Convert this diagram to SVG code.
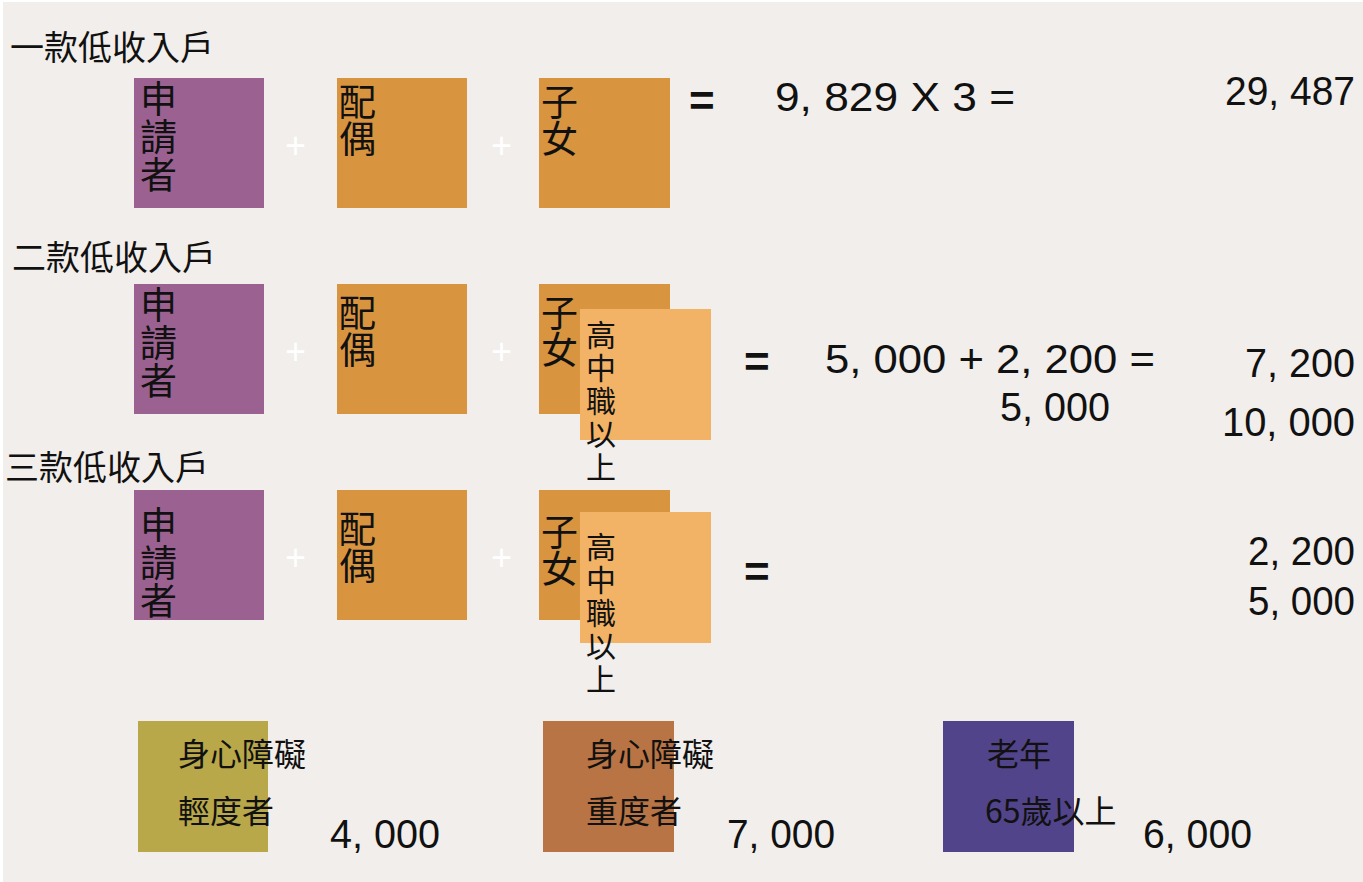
<svg xmlns="http://www.w3.org/2000/svg" width="1363" height="882" viewBox="0 0 1363 882">
<style>
.t{font-family:"Noto Sans CJK TC","Noto Sans CJK SC",sans-serif;fill:#111}
.ttl{font-size:34px}
.v{font-size:37px}
.v2{font-size:30px}
.n{font-family:"Liberation Sans",Arial,sans-serif;font-size:41px;fill:#111}
.eq{font-family:"Liberation Sans",Arial,sans-serif;font-size:44px;font-weight:bold;fill:#111}
.pl{font-family:"Liberation Sans",Arial,sans-serif;font-size:36px;fill:#ffffff}
.pu{fill:#9b6291}
.or{fill:#d8943f}
.lo{fill:#f2b366}
.b{font-size:32px}
</style>
<rect x="0" y="0" width="1363" height="882" fill="#ffffff"/>
<rect x="3" y="2" width="1360" height="880" fill="#f1eeeb"/>

<g id="row1">
<text class="t ttl" x="10" y="60">一款低收入戶</text>
<g id="r1-applicant"><rect class="pu" x="134" y="78" width="130" height="130"/>
<text class="t v"><tspan x="140" y="113">申</tspan><tspan x="140" y="151">請</tspan><tspan x="140" y="189">者</tspan></text></g>
<text class="pl" x="285" y="158">+</text>
<g id="r1-spouse"><rect class="or" x="337" y="78" width="130" height="130"/>
<text class="t v"><tspan x="339" y="116">配</tspan><tspan x="339" y="153">偶</tspan></text></g>
<text class="pl" x="491" y="158">+</text>
<g id="r1-child"><rect class="or" x="539" y="78" width="131" height="130"/>
<text class="t v"><tspan x="541" y="116">子</tspan><tspan x="541" y="153">女</tspan></text></g>
<text class="eq" x="689" y="116">=</text>
<text class="n" x="775" y="111" textLength="240" lengthAdjust="spacingAndGlyphs">9, 829  X  3  =</text>
<text class="n" x="1225" y="105" textLength="130" lengthAdjust="spacingAndGlyphs">29, 487</text>
</g>

<g id="row2">
<text class="t ttl" x="12" y="270">二款低收入戶</text>
<g id="r2-applicant"><rect class="pu" x="134" y="284" width="130" height="130"/>
<text class="t v"><tspan x="140" y="319">申</tspan><tspan x="140" y="357">請</tspan><tspan x="140" y="395">者</tspan></text></g>
<text class="pl" x="285" y="364">+</text>
<g id="r2-spouse"><rect class="or" x="337" y="284" width="130" height="130"/>
<text class="t v"><tspan x="339" y="327">配</tspan><tspan x="339" y="364">偶</tspan></text></g>
<text class="pl" x="491" y="364">+</text>
<g id="r2-child"><rect class="or" x="539" y="284" width="131" height="130"/>
<text class="t v"><tspan x="541" y="327">子</tspan><tspan x="541" y="364">女</tspan></text></g>
<g id="r2-senior"><rect class="lo" x="580" y="309" width="131" height="131"/>
<text class="t v2"><tspan x="586" y="346">高</tspan><tspan x="586" y="379">中</tspan><tspan x="586" y="412">職</tspan><tspan x="586" y="445">以</tspan><tspan x="586" y="478">上</tspan></text></g>
<text class="eq" x="744" y="377">=</text>
<text class="n" x="825" y="373" textLength="330" lengthAdjust="spacingAndGlyphs">5, 000  +  2, 200  =</text>
<text class="n" x="1000" y="421" textLength="110" lengthAdjust="spacingAndGlyphs">5, 000</text>
<text class="n" x="1245" y="377" textLength="110" lengthAdjust="spacingAndGlyphs">7, 200</text>
<text class="n" x="1222" y="436" textLength="133" lengthAdjust="spacingAndGlyphs">10, 000</text>
</g>

<g id="row3">
<text class="t ttl" x="5" y="480">三款低收入戶</text>
<g id="r3-applicant"><rect class="pu" x="134" y="490" width="130" height="130"/>
<text class="t v"><tspan x="140" y="539">申</tspan><tspan x="140" y="577">請</tspan><tspan x="140" y="615">者</tspan></text></g>
<text class="pl" x="285" y="570">+</text>
<g id="r3-spouse"><rect class="or" x="337" y="490" width="130" height="130"/>
<text class="t v"><tspan x="339" y="543">配</tspan><tspan x="339" y="580">偶</tspan></text></g>
<text class="pl" x="491" y="570">+</text>
<g id="r3-child"><rect class="or" x="539" y="490" width="131" height="130"/>
<text class="t v"><tspan x="541" y="546">子</tspan><tspan x="541" y="583">女</tspan></text></g>
<g id="r3-senior"><rect class="lo" x="580" y="512" width="131" height="131"/>
<text class="t v2"><tspan x="586" y="558">高</tspan><tspan x="586" y="591">中</tspan><tspan x="586" y="624">職</tspan><tspan x="586" y="657">以</tspan><tspan x="586" y="690">上</tspan></text></g>
<text class="eq" x="744" y="587">=</text>
<text class="n" x="1248" y="565" textLength="107" lengthAdjust="spacingAndGlyphs">2, 200</text>
<text class="n" x="1248" y="615" textLength="107" lengthAdjust="spacingAndGlyphs">5, 000</text>
</g>

<g id="bottom">
<g id="mild"><rect x="138" y="721" width="130" height="131" fill="#b8a84a"/>
<text class="t b" x="178" y="766">身心障礙</text>
<text class="t b" x="178" y="823">輕度者</text></g>
<text class="n" x="330" y="848" textLength="110" lengthAdjust="spacingAndGlyphs">4, 000</text>
<g id="severe"><rect x="543" y="721" width="131" height="131" fill="#b87444"/>
<text class="t b" x="586" y="766">身心障礙</text>
<text class="t b" x="586" y="823">重度者</text></g>
<text class="n" x="727" y="848" textLength="108" lengthAdjust="spacingAndGlyphs">7, 000</text>
<g id="elder"><rect x="943" y="721" width="131" height="131" fill="#52448a"/>
<text class="t b" x="987" y="766">老年</text>
<text class="t b" x="985" y="823">65歲以上</text></g>
<text class="n" x="1143" y="848" textLength="109" lengthAdjust="spacingAndGlyphs">6, 000</text>
</g>
</svg>
